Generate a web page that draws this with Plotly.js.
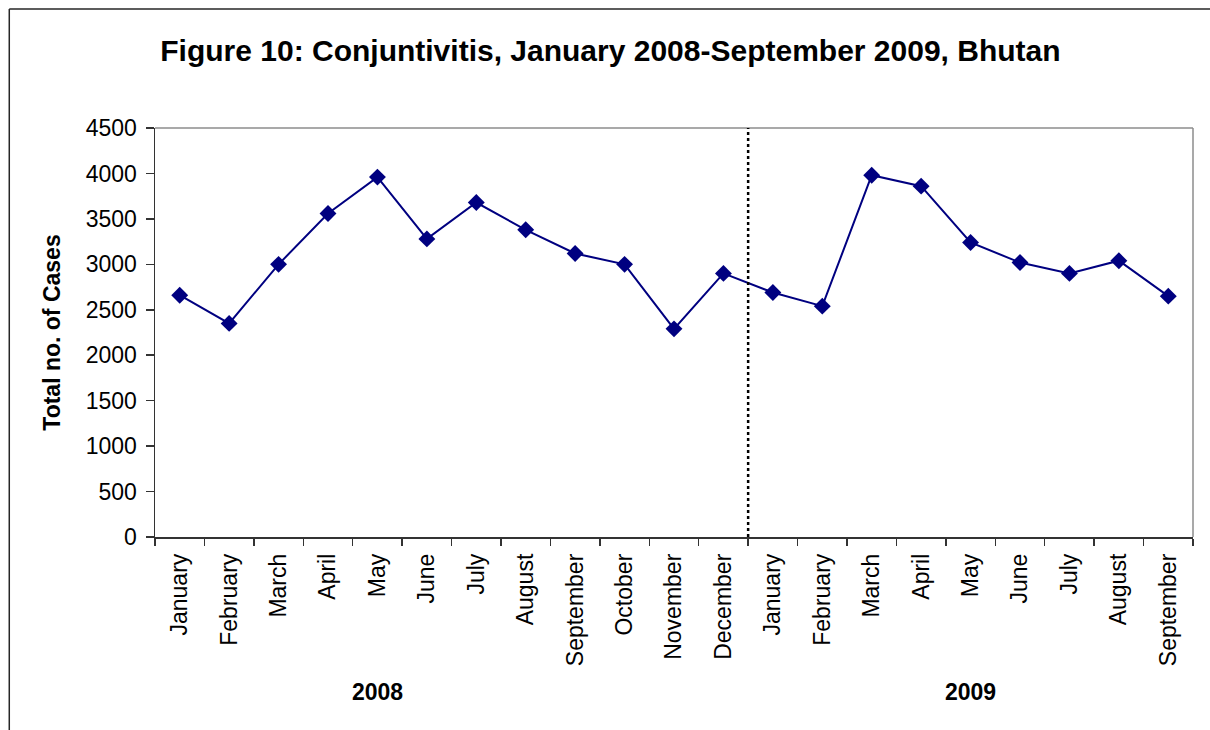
<!DOCTYPE html>
<html>
<head>
<meta charset="utf-8">
<script src="https://cdn.plot.ly/plotly-3.0.1.min.js"></script>
<style>html,body{margin:0;padding:0;background:#fff;}#chart{width:1210px;height:730px;}</style>
</head>
<body>
<div id="chart"></div>
<script>
var months = ["January","February","March","April","May","June","July","August","September","October","November","December",
              "January","February","March","April","May","June","July","August","September"];
var years = ["2008","2009"];
var cases = [2660, 2350, 3000, 3560, 3960, 3280, 3680, 3380, 3120, 3000, 2290, 2900,
             2690, 2540, 3980, 3860, 3240, 3020, 2900, 3040, 2650];
var yTicks = [0, 500, 1000, 1500, 2000, 2500, 3000, 3500, 4000, 4500];

var idx = months.map(function(_, i){ return i; });
var bounds = [];
for (var i = 0; i <= months.length; i++) bounds.push(i - 0.5);

var trace = {
  x: idx, y: cases, type: 'scatter', mode: 'lines+markers',
  line: {color: '#000080', width: 2},
  marker: {symbol: 'diamond', size: 13, color: '#000080'},
  hoverinfo: 'y'
};

var layout = {
  width: 1210, height: 730,
  paper_bgcolor: '#fff', plot_bgcolor: '#fff',
  margin: {l: 155, r: 17, t: 128, b: 193},
  showlegend: false,
  font: {family: 'Liberation Sans, Arial, sans-serif', color: '#000'},
  title: {
    text: '<b>Figure 10: Conjuntivitis, January 2008-September 2009, Bhutan</b>',
    font: {size: 30, family: 'Liberation Sans, Arial, sans-serif', color: '#000'},
    xref: 'container', yref: 'container', x: 0.5045, y: 1 - 50/730,
    xanchor: 'center', yanchor: 'middle'
  },
  xaxis: {
    range: [-0.5, months.length - 0.5],
    tickmode: 'array', tickvals: idx, ticktext: months,
    tickangle: -90, ticks: '', ticklabelstandoff: 6,
    tickfont: {size: 23},
    showline: true, linecolor: '#333', linewidth: 1.5,
    showgrid: false, zeroline: false, fixedrange: true,
    minor: {tickmode: 'array', tickvals: bounds, ticks: 'outside', ticklen: 7, tickcolor: '#333', tickwidth: 1.5, showgrid: false}
  },
  yaxis: {
    range: [0, 4500],
    tickmode: 'array', tickvals: yTicks,
    ticks: 'outside', ticklen: 8, tickcolor: '#333', tickwidth: 1.5,
    ticklabelstandoff: 4,
    tickfont: {size: 23},
    showline: true, linecolor: '#333', linewidth: 1.5,
    showgrid: false, zeroline: false, fixedrange: true,
    title: {text: '<b>Total no. of Cases</b>', font: {size: 23}, standoff: 18}
  },
  shapes: [
    {type: 'line', xref: 'paper', yref: 'paper', x0: 0, x1: 1, y0: 1, y1: 1, line: {color: '#8c8c8c', width: 1.5}},
    {type: 'line', xref: 'paper', yref: 'paper', x0: 1, x1: 1, y0: 0, y1: 1, line: {color: '#8c8c8c', width: 1.5}},
    {type: 'line', xref: 'x', yref: 'paper', x0: 11.5, x1: 11.5, y0: 0, y1: 1, line: {color: '#000', width: 2.5, dash: 'dot'}},
    {type: 'line', xref: 'paper', yref: 'paper', x0: (9-155)/1040, x1: 1.2, y0: (537-9)/409, y1: (537-9)/409, line: {color: '#262626', width: 1.5}},
    {type: 'line', xref: 'paper', yref: 'paper', x0: (9-155)/1040, x1: (9-155)/1040, y0: -1, y1: (537-9)/409, line: {color: '#262626', width: 1.5}}
  ],
  annotations: [
    {text: '<b>' + years[0] + '</b>', xref: 'x', yref: 'paper', x: 4, y: (537-692)/409, showarrow: false, xanchor: 'center', yanchor: 'middle', font: {size: 23}},
    {text: '<b>' + years[1] + '</b>', xref: 'x', yref: 'paper', x: 16, y: (537-692)/409, showarrow: false, xanchor: 'center', yanchor: 'middle', font: {size: 23}}
  ]
};

Plotly.newPlot('chart', [trace], layout, {displayModeBar: false, staticPlot: true});
</script>
</body>
</html>
